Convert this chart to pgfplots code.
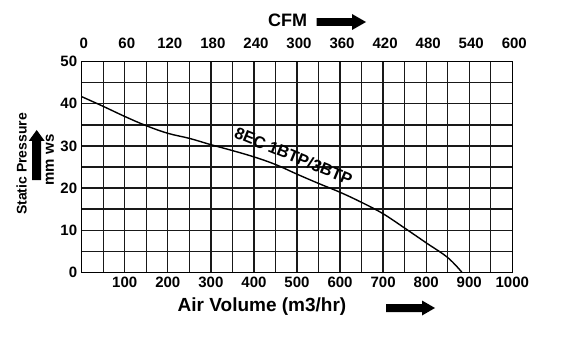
\documentclass[border=0pt]{standalone}
\usepackage{pgfplots}
\pgfplotsset{compat=1.18}
\usepackage{fontspec}
\setmainfont{Liberation Sans}
\begin{document}
\begin{tikzpicture}[x=1pt,y=1pt]
\useasboundingbox (0,0) rectangle (570,362);
\begin{axis}[
  at={(81.7pt,89.7pt)}, anchor=south west,
  scale only axis, width=430.6pt, height=210.6pt,
  xmin=0, xmax=1000, ymin=0, ymax=50,
  xtick={0,100,...,1000},
  xticklabels={,100,200,300,400,500,600,700,800,900,1000},
  ytick={0,10,...,50},
  minor x tick num=1, minor y tick num=1,
  grid=both,
  major grid style={black!90, line width=1.3pt},
  minor grid style={black!90, line width=1.3pt},
  major tick length=0pt, minor tick length=0pt,
  axis line style={black, line width=1.3pt},
  scaled ticks=false,
  /pgf/number format/assume math mode=true,
  /pgf/number format/1000 sep={},
  tick label style={font=\bfseries\fontsize{15}{17}\selectfont},
  xticklabel style={yshift=-1pt},
  yticklabel style={xshift=-1pt},
]
\addplot[black, line width=1.4pt, smooth, tension=0.6] coordinates {
(0,41.7) (50,39.4) (100,37.0) (150,34.8) (200,33.0) (250,31.8)
(300,30.3) (350,28.9) (400,27.4) (450,25.6) (500,23.3) (550,21.1)
(600,19.0) (650,16.6) (700,13.9) (750,10.5) (800,7.0) (850,3.5) (883,0)
};
\node[rotate=-22.5, font=\bfseries\fontsize{16.5}{18}\selectfont] at (axis cs:492,27.6) {8EC 1BTP/3BTP};
\end{axis}
\begin{axis}[
  at={(81.7pt,89.7pt)}, anchor=south west,
  scale only axis, width=430.6pt, height=210.6pt,
  xmin=0, xmax=600, ymin=0, ymax=50,
  xticklabel pos=right,
  ytick=\empty,
  xtick={0,60,...,600},
  major tick length=0pt,
  axis line style={draw=none},
  /pgf/number format/assume math mode=true,
  /pgf/number format/1000 sep={},
  tick label style={font=\bfseries\fontsize{15}{17}\selectfont},
  xticklabel style={yshift=10pt, xshift=2pt},
]
\addplot[draw=none] coordinates {(0,0) (600,50)};
\end{axis}
% titles and arrows
\node[font=\bfseries\fontsize{18}{20}\selectfont] at (287.5,341.3) {CFM};
\fill[black] (316.7,336.2) -- (352,336.2) -- (352,332) -- (366,340) -- (352,348) -- (352,343.8) -- (316.7,343.8) -- cycle;
\node[font=\bfseries\fontsize{19}{21}\selectfont] at (262,55) {Air Volume (m3/hr)};
\fill[black] (386,50) -- (422,50) -- (422,46.5) -- (435,54) -- (422,61.5) -- (422,58) -- (386,58) -- cycle;
\node[rotate=90, font=\bfseries\fontsize{14}{16}\selectfont] at (21.7,198) {Static Pressure};
\node[rotate=90, font=\bfseries\fontsize{15}{17}\selectfont] at (50,202) {mm ws};
\fill[black] (32.2,182) -- (32.2,221) -- (28.7,221) -- (36.7,232) -- (44.7,221) -- (41.2,221) -- (41.2,182) -- cycle;
\end{tikzpicture}
\end{document}
